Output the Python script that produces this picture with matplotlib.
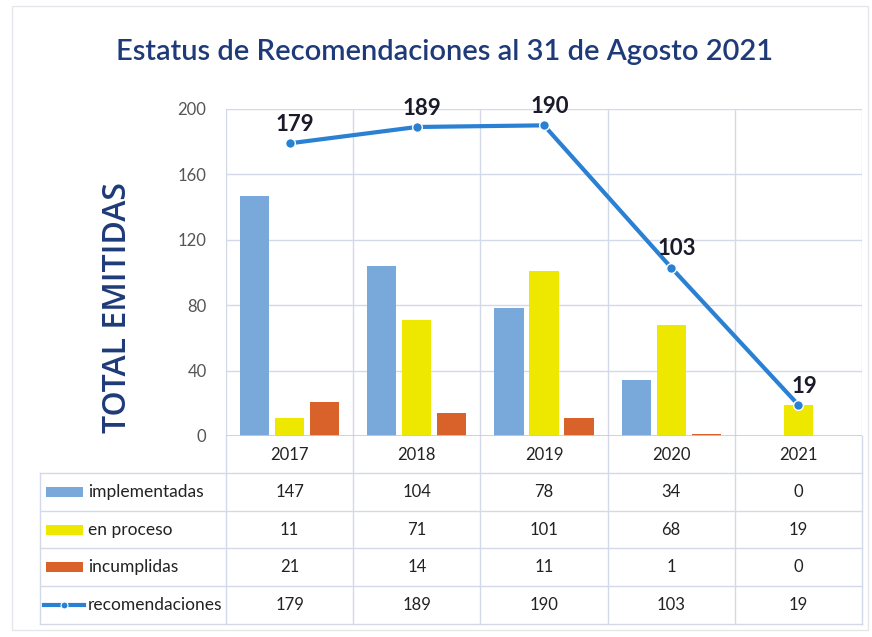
import matplotlib
matplotlib.use("Agg")
import matplotlib.pyplot as plt
from matplotlib.lines import Line2D
from matplotlib.patches import Rectangle
import numpy as np

years = ["2017", "2018", "2019", "2020", "2021"]
implementadas = [147, 104, 78, 34, 0]
en_proceso = [11, 71, 101, 68, 19]
incumplidas = [21, 14, 11, 1, 0]
recomendaciones = [179, 189, 190, 103, 19]
series_names = ["implementadas", "en proceso", "incumplidas", "recomendaciones"]
y_ticks = [0, 40, 80, 120, 160, 200]

c_blue = "#78A9DA"
c_yellow = "#EEE800"
c_orange = "#D8622A"
c_line = "#2A80D2"
c_grid = "#D3D9E8"
c_navy = "#1E3A78"
narrow = ["Lato", "DejaVu Sans"]

W, H = 872, 637
fig = plt.figure(figsize=(W / 100, H / 100), dpi=100)
fig.patch.set_facecolor("white")

# faint outer frame
fig.add_artist(Rectangle((12 / W, 1 - 630 / H), 856 / W, 624 / H, facecolor="none",
                         edgecolor="#E4E6EC", lw=1))

ax_l, ax_r, ax_t, ax_b = 226, 862, 109, 436
ax = fig.add_axes([ax_l / W, (H - ax_b) / H, (ax_r - ax_l) / W, (ax_b - ax_t) / H])
x = np.arange(len(years))
bw = 0.23
off = 0.275
ax.bar(x - off, implementadas, bw, color=c_blue, zorder=3)
ax.bar(x, en_proceso, bw, color=c_yellow, zorder=3)
ax.bar(x + off, incumplidas, bw, color=c_orange, zorder=3)
ax.plot(x, recomendaciones, color=c_line, lw=3, marker="o", ms=7,
        markerfacecolor=c_line, markeredgecolor="white", markeredgewidth=1, zorder=5)
for xi, v in zip(x, recomendaciones):
    ax.annotate(str(v), (xi, v), xytext=(4, 6), textcoords="offset points",
                ha="center", va="bottom", fontsize=16, fontweight="bold",
                color="#1a1a2a", family=narrow, zorder=6)

ax.set_xlim(-0.5, len(years) - 0.5)
ax.set_ylim(0, 200)
ax.set_yticks(y_ticks)
ax.set_yticklabels([str(t) for t in y_ticks], family=narrow, fontsize=12, color="#555555")
ax.tick_params(axis="y", length=0, pad=14)
ax.set_xticks([])
ax.grid(axis="y", color=c_grid, lw=1, zorder=0)
for b in np.arange(-0.5, len(years), 1.0):
    ax.axvline(b, color=c_grid, lw=1, zorder=0)
for s in ax.spines.values():
    s.set_visible(False)
ax.axhline(0, color="#C8CCD8", lw=1.2, zorder=4)

# y label
fig.text(118 / W, 1 - 308 / H, "TOTAL EMITIDAS", rotation=90, ha="center", va="center",
         fontsize=23, color=c_navy, fontweight="semibold",
         family=["Open Sans", "DejaVu Sans"])

# title
fig.text(445 / W, 1 - 52 / H, "Estatus de Recomendaciones al 31 de Agosto 2021",
         ha="center", va="center", fontsize=21, color=c_navy, fontweight="semibold",
         family=narrow)

# data table below axes
trans = ax.get_xaxis_transform()
def fy(py):
    return (ax_b - py) / (ax_b - ax_t)

for xi, yr in zip(x, years):
    ax.text(xi, fy(455), yr, transform=trans, ha="center", va="center",
            fontsize=12, family=narrow, color="#222222", clip_on=False)

row_centers = [492, 530, 567, 605]
row_lines = [473, 511, 548, 586, 624]
rows = [implementadas, en_proceso, incumplidas, recomendaciones]
for rc, vals in zip(row_centers, rows):
    for xi, v in zip(x, vals):
        ax.text(xi, fy(rc), str(v), transform=trans, ha="center", va="center",
                fontsize=12, family=narrow, color="#222222", clip_on=False)

# table grid lines
for ry in row_lines:
    fig.add_artist(Line2D([40 / W, ax_r / W], [1 - ry / H, 1 - ry / H],
                          color=c_grid, lw=1))
fig.add_artist(Line2D([40 / W, 40 / W], [1 - row_lines[0] / H, 1 - row_lines[-1] / H],
                      color=c_grid, lw=1))
for b in np.arange(-0.5, len(years), 1.0):
    ax.plot([b, b], [fy(ax_b), fy(row_lines[-1])], transform=trans,
            color=c_grid, lw=1, clip_on=False, zorder=0)

# legend keys in first column
keys = [c_blue, c_yellow, c_orange, None]
for rc, name, col in zip(row_centers, series_names, keys):
    yc = 1 - rc / H
    if col is not None:
        fig.add_artist(Rectangle((46 / W, yc - 5 / H), 37 / W, 10 / H,
                                 facecolor=col, edgecolor="none"))
    else:
        fig.add_artist(Line2D([44 / W, 84 / W], [yc, yc], color=c_line, lw=3))
        fig.add_artist(Line2D([64 / W], [yc], color=c_line, marker="o", ms=5,
                              markeredgecolor="white", markeredgewidth=0.8))
    fig.text(88 / W, yc, name, ha="left", va="center", fontsize=12.5,
             family=narrow, color="#222222")

fig.savefig("out.png", dpi=100)
